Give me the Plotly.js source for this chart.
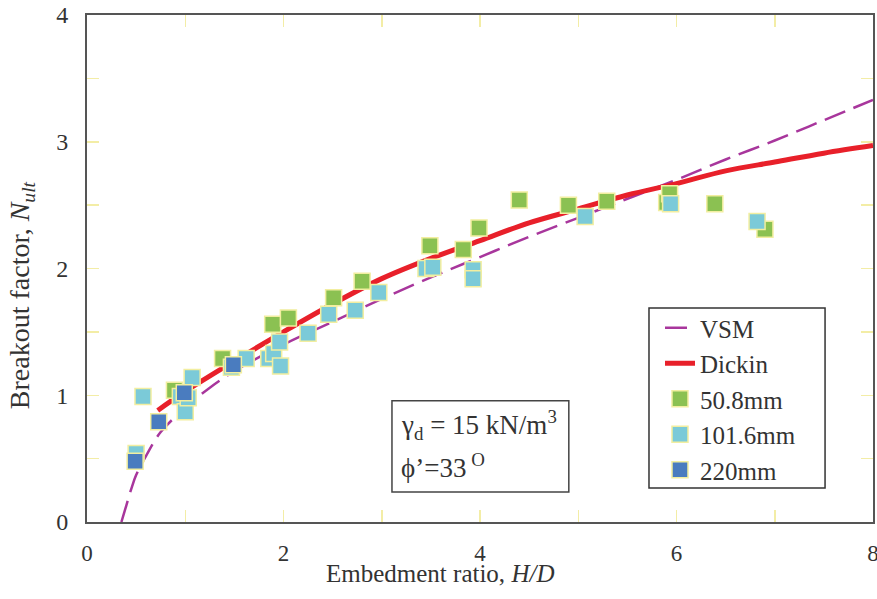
<!DOCTYPE html>
<html>
<head>
<meta charset="utf-8">
<script src="https://cdn.plot.ly/plotly-3.0.1.min.js"></script>
<style>html,body{margin:0;padding:0;background:#fff;}#chart{width:877px;height:599px;}</style>
</head>
<body>
<div id="chart"></div>
<script>
// VSM curve (dashed)
const vsmX = [0.35, 0.40, 0.45, 0.50, 0.60, 0.75, 1.00, 1.25, 1.50, 2.00, 2.50, 3.00, 3.50, 4.00, 4.50, 5.00, 5.50, 6.00, 6.50, 7.00, 7.50, 8.00];
const vsmY = [0.00, 0.13, 0.26, 0.37, 0.52, 0.71, 0.90, 1.06, 1.19, 1.40, 1.58, 1.76, 1.93, 2.09, 2.25, 2.40, 2.55, 2.70, 2.86, 3.01, 3.17, 3.33];
// Dickin curve
const dickinX = [0.72, 1.00, 1.50, 2.00, 2.50, 3.00, 3.50, 4.00, 4.50, 5.00, 5.50, 6.00, 6.50, 7.00, 7.50, 8.00];
const dickinY = [0.88, 1.03, 1.27, 1.50, 1.72, 1.92, 2.08, 2.22, 2.36, 2.47, 2.58, 2.67, 2.77, 2.84, 2.91, 2.97];
// 50.8mm
const g508X = [0.89, 1.38, 1.89, 2.05, 2.51, 2.80, 3.49, 3.83, 3.99, 4.40, 4.90, 5.29, 5.90, 5.93, 6.39, 6.90];
const g508Y = [1.04, 1.29, 1.56, 1.61, 1.77, 1.90, 2.18, 2.15, 2.32, 2.54, 2.50, 2.53, 2.52, 2.59, 2.51, 2.31];
// 101.6mm
const c1016X = [0.50, 0.57, 0.95, 1.00, 1.03, 1.07, 1.47, 1.62, 1.85, 1.90, 1.97, 1.96, 2.25, 2.46, 2.73, 2.97, 3.45, 3.52, 3.93, 3.93, 5.07, 5.94, 6.82];
const c1016Y = [0.54, 0.99, 0.99, 0.87, 0.98, 1.14, 1.22, 1.29, 1.29, 1.33, 1.23, 1.42, 1.49, 1.64, 1.67, 1.81, 2.00, 2.01, 1.99, 1.92, 2.41, 2.51, 2.37];
// 220mm
const b220X = [0.49, 0.73, 0.99, 1.49];
const b220Y = [0.48, 0.79, 1.02, 1.24];

const xTickVals = [0, 2, 4, 6, 8];
const yTickVals = [0, 1, 2, 3, 4];
const xTickText = ["0", "2", "4", "6", "8"];
const yTickText = ["0", "1", "2", "3", "4"];

const serif = "Liberation Serif";
const txt = "#333333";
const tickYellow = "#f3eda6";
const mkLine = {color: "#f2eea0", width: 1.5};

const traces = [
  {x: vsmX, y: vsmY, name: "VSM", mode: "lines", line: {color: "#a8369c", width: 2.5, dash: "22px,9px", shape: "spline"}},
  {x: dickinX, y: dickinY, name: "Dickin", mode: "lines", line: {color: "#e8202a", width: 5, shape: "spline"}},
  {x: g508X, y: g508Y, name: "50.8mm", mode: "markers", marker: {symbol: "square", size: 16, color: "#8bc152", line: mkLine}},
  {x: c1016X, y: c1016Y, name: "101.6mm", mode: "markers", marker: {symbol: "square", size: 16, color: "#7bcad8", line: mkLine}},
  {x: b220X, y: b220Y, name: "220mm", mode: "markers", marker: {symbol: "square", size: 16, color: "#4a7cbf", line: mkLine}}
];

const layout = {
  width: 877, height: 599,
  margin: {l: 87, r: 4, t: 15, b: 77},
  paper_bgcolor: "#ffffff", plot_bgcolor: "#ffffff",
  font: {family: serif, size: 24, color: txt},
  xaxis: {
    range: [0, 8], tickmode: "array", tickvals: xTickVals, ticktext: xTickText,
    showline: true, linecolor: "#555555", linewidth: 2, mirror: "ticks",
    ticks: "inside", ticklen: 12, tickcolor: tickYellow, tickwidth: 1.5,
    showgrid: false, zeroline: false,
    tickfont: {family: "Liberation Serif, serif", size: 23, color: "#333333"},
    ticklabelstandoff: 9, ticklabeloverflow: "allow",
    minor: {tickvals: [1, 3, 5, 7], ticks: "inside", ticklen: 12, tickcolor: tickYellow, tickwidth: 1.5}
  },
  yaxis: {
    range: [0, 4], tickmode: "array", tickvals: yTickVals, ticktext: yTickText,
    showline: true, linecolor: "#555555", linewidth: 2, mirror: "ticks",
    ticks: "inside", ticklen: 12, tickcolor: tickYellow, tickwidth: 1.5,
    showgrid: false, zeroline: false,
    tickfont: {family: "Liberation Serif, serif", size: 24, color: "#333333"},
    ticklabelstandoff: 12, ticklabeloverflow: "allow",
    minor: {tickvals: [0.5, 1.5, 2.5, 3.5], ticks: "inside", ticklen: 12, tickcolor: tickYellow, tickwidth: 1.5}
  },
  showlegend: true,
  legend: {
    x: 0.729, y: 0.428, xanchor: "left", yanchor: "top",
    bgcolor: "rgba(0,0,0,0)", borderwidth: 0,
    font: {family: serif, size: 25, color: txt},
    tracegroupgap: 0, itemwidth: 30
  },
  shapes: [
    {type: "rect", xref: "paper", yref: "paper", x0: 0.715, x1: 0.939, y0: 0.067, y1: 0.422, line: {color: "#333333", width: 1.5}, fillcolor: "#ffffff", layer: "above"},
    {type: "rect", xref: "paper", yref: "paper", x0: 0.388, x1: 0.613, y0: 0.059, y1: 0.239, line: {color: "#444444", width: 1.5}, fillcolor: "#ffffff", layer: "above"}
  ],
  annotations: [
    {xref: "paper", yref: "paper", x: 0.3975, y: 0.192, xanchor: "left", yanchor: "middle", showarrow: false,
     text: "γ<sub>d</sub> = 15 kN/m<sup>3</sup>", font: {family: serif, size: 27, color: txt}},
    {xref: "paper", yref: "paper", x: 0.3975, y: 0.11, xanchor: "left", yanchor: "middle", showarrow: false,
     text: "ϕ’=33<sup> O</sup>", font: {family: serif, size: 27, color: txt}},
    {xref: "paper", yref: "paper", x: 0.449, y: -0.102, xanchor: "center", yanchor: "middle", showarrow: false,
     text: "Embedment ratio, <i>H/D</i>", font: {family: serif, size: 25, color: txt}},
    {xref: "paper", yref: "paper", x: -0.083, y: 0.447, xanchor: "center", yanchor: "middle", showarrow: false, textangle: -90,
     text: "Breakout factor, <i>N<sub>ult</sub></i>", font: {family: serif, size: 28, color: txt}}
  ]
};

Plotly.newPlot("chart", traces, layout, {staticPlot: true});
</script>
</body>
</html>
